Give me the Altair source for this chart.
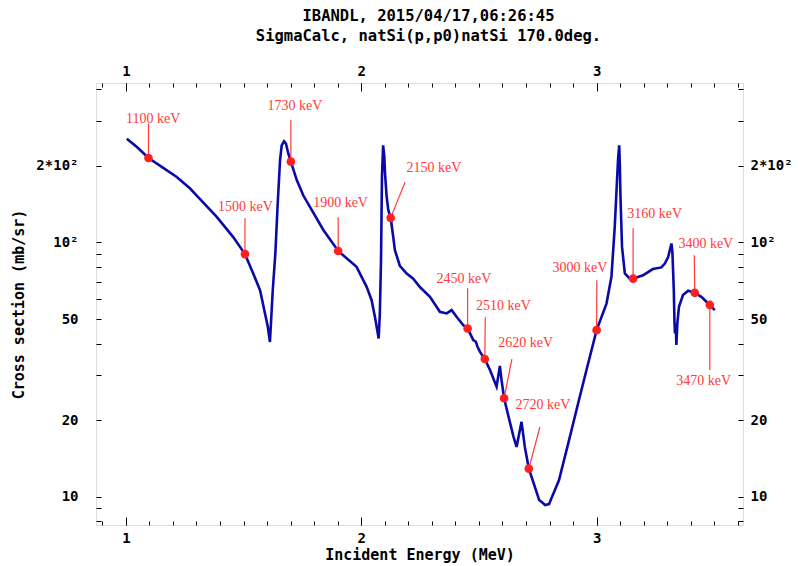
import altair as alt
import pandas as pd

# ---- curve (incident energy in MeV, cross section in mb/sr) ----
energy = [1.004, 1.048, 1.096, 1.154, 1.216, 1.273, 1.301, 1.386, 1.456, 1.506,
          1.541, 1.570, 1.591, 1.603, 1.612, 1.624, 1.635, 1.645, 1.655, 1.662,
          1.672, 1.680, 1.690, 1.701, 1.726, 1.754, 1.782, 1.839, 1.902, 1.980,
          2.023, 2.044, 2.058, 2.068, 2.074, 2.079, 2.084, 2.088, 2.093, 2.098,
          2.101, 2.108, 2.115, 2.125, 2.136, 2.143, 2.164, 2.193, 2.221, 2.249,
          2.292, 2.334, 2.363, 2.384, 2.405, 2.433, 2.452, 2.476, 2.487, 2.494,
          2.504, 2.525, 2.547, 2.575, 2.589, 2.596, 2.607, 2.626, 2.647, 2.660,
          2.681, 2.695, 2.712, 2.738, 2.756, 2.773, 2.781, 2.798, 2.805, 2.840,
          2.883, 2.925, 2.957, 3.000, 3.042, 3.063, 3.077, 3.084, 3.091, 3.096,
          3.099, 3.101, 3.108, 3.120, 3.141, 3.155, 3.197, 3.239, 3.275, 3.290,
          3.304, 3.318, 3.322, 3.328, 3.331, 3.333, 3.336, 3.339, 3.343, 3.350,
          3.367, 3.389, 3.417, 3.445, 3.481, 3.502]
sigma = [256, 237, 215, 198, 181, 163, 153, 126, 105, 90,
         75.5, 64.9, 52.6, 46.6, 40.6, 64.9, 90.6, 142, 211, 241,
         250, 245, 224, 208, 176, 153, 138, 112, 92.6, 80.2,
         66.9, 59.3, 51.0, 45.2, 41.9, 52.6, 85.1, 181, 241, 217,
         187, 151, 134, 125, 105, 93.3, 81, 75.5, 72.1, 66.8,
         61.1, 53.4, 52.6, 54.2, 51.0, 47.3, 45.9, 41.3, 40.7, 38.9,
         37.2, 34.8, 31.5, 27.1, 32.7, 28.8, 24.4, 20.6, 17.2, 15.7,
         19.7, 15.7, 12.9, 10.9, 9.70, 9.42, 9.27, 9.35, 9.70, 11.6,
         16.7, 24.0, 31.5, 45.2, 57.5, 73.3, 115, 156, 211, 241,
         198, 156, 96.1, 75.5, 72.1, 72.1, 74.3, 78.6, 79.8, 82.6,
         87.7, 99.1, 91.8, 64.9, 48.1, 43.9, 48.1, 39.5, 48.1, 55.9,
         62.1, 64.6, 63.4, 61.1, 56.8, 54.2]

# ---- marked energies ----
mark_labels = ["1100 keV", "1500 keV", "1730 keV", "1900 keV", "2150 keV",
               "2450 keV", "2510 keV", "2620 keV", "2720 keV", "3000 keV",
               "3160 keV", "3400 keV", "3470 keV"]
mark_E = [1.096, 1.506, 1.701, 1.902, 2.125, 2.452, 2.525, 2.607, 2.712,
          3.000, 3.155, 3.417, 3.481]
mark_S = [215, 90, 208, 92.6, 125, 45.9, 34.8, 24.4, 12.9, 45.2, 72.1, 63.4, 56.8]
lead_E = [1.096, 1.506, 1.701, 1.902, 2.186, 2.452, 2.527, 2.640, 2.759,
          3.001, 3.155, 3.415, 3.481]
lead_S = [294, 124.6, 303, 125.7, 172.6, 66.1, 50.8, 34.8, 18.8, 71.1, 113.8, 89.1, 31.5]
label_E = [1.116, 1.508, 1.718, 1.912, 2.309, 2.436, 2.604, 2.699, 2.772,
           2.929, 3.247, 3.464, 3.455]
label_S = [305, 138, 343, 143, 196, 72.1, 56.2, 40.4, 22.9, 79.3, 129.7, 98.5, 28.4]

# ---- ticks ----
x_major = [1, 2, 3]
x_minor = [0.9, 1.0, 1.1, 1.2, 1.3, 1.4, 1.5, 1.6, 1.7, 1.8, 1.9, 2.0, 2.1, 2.2,
           2.3, 2.4, 2.5, 2.6, 2.7, 2.8, 2.9, 3.0, 3.1, 3.2, 3.3, 3.4, 3.5, 3.6]
y_ticks = [8, 9, 10, 20, 30, 40, 50, 60, 70, 80, 90, 100, 200, 300, 400]

curve_df = pd.DataFrame({"E": energy, "S": sigma})
mark_df = pd.DataFrame({"E": mark_E, "S": mark_S})
lead_df = pd.DataFrame({"E": mark_E, "S": mark_S, "E1": lead_E, "S1": lead_S})
label_df = pd.DataFrame({"E": label_E, "S": label_S, "t": mark_labels})

FONT = "DejaVu Sans Mono"
xscale = alt.Scale(domain=[0.873, 3.622], nice=False, zero=False)
yscale = alt.Scale(type="log", domain=[7.74, 424], nice=False)

ylab = ("datum.value == 100 ? '10²' : datum.value == 200 ? '2*10²' : "
        "(datum.value == 10 || datum.value == 20 || datum.value == 50) ? "
        "format(datum.value, 'd') : ''")

base_axis = dict(domain=False, grid=False, tickColor="black", tickWidth=1,
                 labelFont=FONT, labelFontWeight="bold", labelFontSize=14,
                 labelColor="black", labelOverlap=False, labelFlush=False,
                 titleFont=FONT, titleFontWeight="bold", titleFontSize=15,
                 titleColor="black")

x_bottom_major = alt.Axis(orient="bottom", values=x_major, tickSize=8, offset=-8,
                          labelPadding=6, format="d", title="Incident Energy (MeV)",
                          titlePadding=2, **base_axis)
x_bottom_minor = alt.Axis(orient="bottom", values=x_minor, tickSize=4, offset=-4,
                          labels=False, title=None, **base_axis)
x_top_major = alt.Axis(orient="top", values=x_major, tickSize=8, offset=-8,
                       labelPadding=5, format="d", title=None, **base_axis)
x_top_minor = alt.Axis(orient="top", values=x_minor, tickSize=4, offset=-4,
                       labels=False, title=None, **base_axis)
y_left = alt.Axis(orient="left", values=y_ticks, tickSize=5, offset=-5,
                  labelPadding=18, labelExpr=ylab, title="Cross section (mb/sr)",
                  titlePadding=9, **base_axis)
y_right = alt.Axis(orient="right", values=y_ticks, tickSize=5, offset=-5,
                   labelPadding=7, labelExpr=ylab, title=None, **base_axis)

curve = alt.Chart(curve_df).mark_line(color="#0a0aa8", strokeWidth=2.6).encode(
    x=alt.X("E:Q", scale=xscale, axis=x_bottom_major),
    y=alt.Y("S:Q", scale=yscale, axis=y_left),
)

leads = alt.Chart(lead_df).mark_rule(color="#ff3a3a", strokeWidth=1.2).encode(
    x=alt.X("E:Q", scale=xscale, axis=x_top_major),
    y=alt.Y("S:Q", scale=yscale, axis=y_right),
    x2="E1:Q",
    y2="S1:Q",
)

points = alt.Chart(mark_df).mark_circle(color="#ff2020", size=75, opacity=1).encode(
    x=alt.X("E:Q", scale=xscale, axis=x_bottom_minor),
    y=alt.Y("S:Q", scale=yscale, axis=None),
)

texts = alt.Chart(label_df).mark_text(
    font="Liberation Serif", fontSize=14, color="#ff3a3a",
    align="center", baseline="middle",
).encode(
    x=alt.X("E:Q", scale=xscale, axis=x_top_minor),
    y=alt.Y("S:Q", scale=yscale, axis=None),
    text="t:N",
)

chart = alt.layer(curve, leads, points, texts).resolve_axis(
    x="independent", y="independent"
).properties(
    width=647,
    height=442,
    autosize=alt.AutoSizeParams(type="none"),
    padding={"left": 96, "top": 83, "right": 55, "bottom": 41},
    title=alt.TitleParams(
        text=["IBANDL, 2015/04/17,06:26:45", "SigmaCalc, natSi(p,p0)natSi 170.0deg."],
        font=FONT, fontWeight="bold", fontSize=15.5, lineHeight=20,
        color="black", anchor="middle", dx=9, offset=20,
    ),
).configure_view(stroke="black", strokeWidth=1.2).configure(background="white")

chart.save("out.html", embed_options={"renderer": "svg", "actions": False})
